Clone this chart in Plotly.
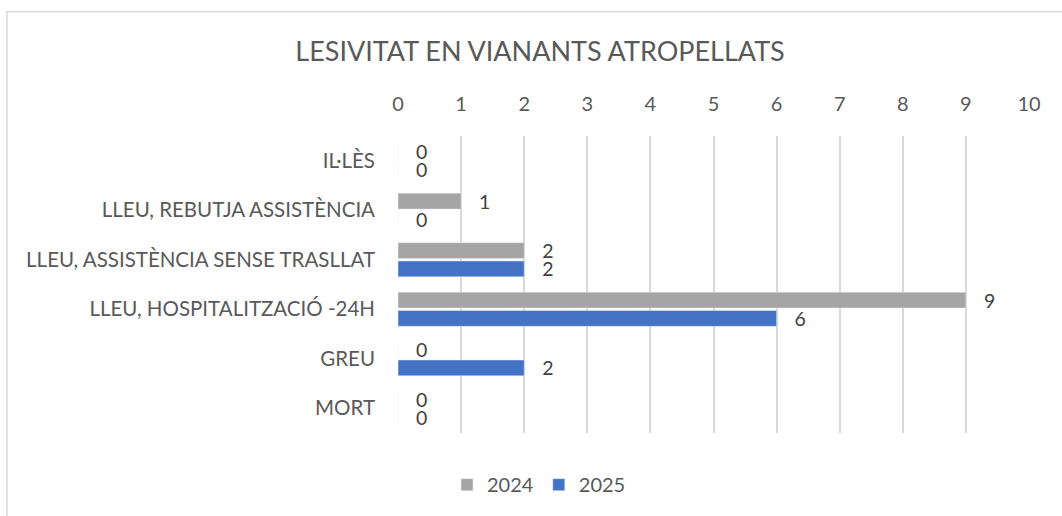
import plotly.graph_objects as go

categories = ["IL·LÈS", "LLEU, REBUTJA ASSISTÈNCIA", "LLEU, ASSISTÈNCIA SENSE TRASLLAT",
              "LLEU, HOSPITALITZACIÓ -24H", "GREU", "MORT"]
values_2024 = [0, 1, 2, 9, 0, 0]
values_2025 = [0, 0, 2, 6, 2, 0]
x_ticks = list(range(0, 11))

FONT = "Lato"
TXT = "#595959"

PAD = "\u00a0\u00a0\u00a0"

fig = go.Figure()
for name, vals, col in [("2024", values_2024, "#A5A5A5"), ("2025", values_2025, "#4472C4")]:
    fig.add_trace(go.Bar(
        name=name, y=categories, x=vals, orientation="h",
        marker_color=col, text=vals, texttemplate=PAD + "%{x}", textposition="outside",
        constraintext="none",
        textfont=dict(family=FONT, size=19.5, color="#404040"), cliponaxis=False,
    ))

W, H = 1062, 516
L, R, T, B = 398, 33, 136, 81
pw, ph = W - L - R, H - T - B
bottom_px = T + ph

def px_x(p):
    return (p - L) / pw

def px_y(p):
    return (bottom_px - p) / ph

fig.update_layout(
    width=W, height=H,
    margin=dict(l=L, r=R, t=T, b=B),
    paper_bgcolor="white", plot_bgcolor="white",
    barmode="group", bargap=0.26, bargroupgap=0.13,
    font=dict(family=FONT, size=20, color=TXT),
    title=dict(text="LESIVITAT EN VIANANTS ATROPELLATS", x=540 / W, xanchor="center",
               y=1 - 52 / H, yanchor="middle",
               font=dict(family=FONT, size=27, color=TXT)),
    legend=dict(orientation="h", x=px_x(539), xanchor="center",
                y=px_y(487), yanchor="middle",
                font=dict(family=FONT, size=20, color=TXT),
                traceorder="normal", itemwidth=30),
    xaxis=dict(range=[0, 10], side="top", tickvals=x_ticks, showgrid=True,
               gridcolor="#D9D9D9", gridwidth=1.5, zeroline=False, showline=False,
               ticks="", ticklabelstandoff=20, fixedrange=True),
    yaxis=dict(autorange="reversed", showgrid=False, zeroline=False, showline=False,
               ticks="", ticklabelstandoff=22, fixedrange=True,
               tickfont=dict(family=FONT, size=20.5, color=TXT)),
    shapes=[dict(type="rect", xref="paper", yref="paper",
                 x0=px_x(7), x1=px_x(1090),
                 y0=px_y(540), y1=px_y(11),
                 line=dict(color="#D9D9D9", width=1.5), layer="below")],
)

fig.write_html("out.html", config={"displayModeBar": False},
               post_script="document.body.style.margin='0';")
